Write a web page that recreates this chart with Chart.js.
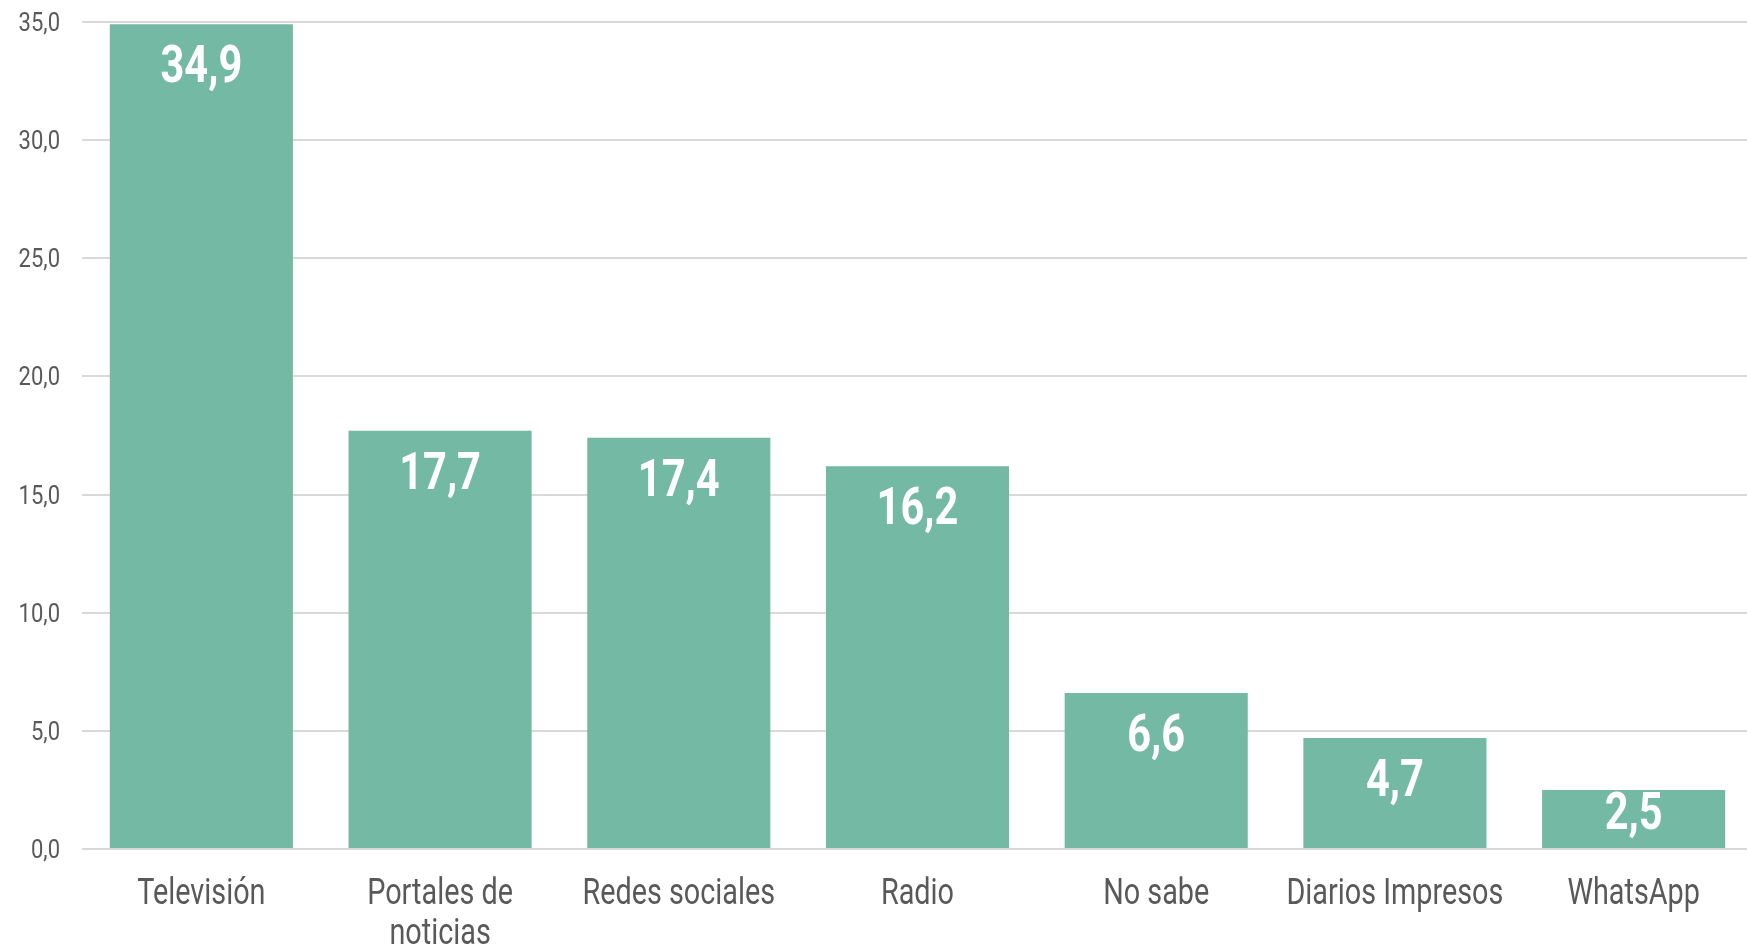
<!DOCTYPE html>
<html>
<head>
<meta charset="utf-8">
<script src="https://cdn.jsdelivr.net/npm/chart.js@4.4.1/dist/chart.umd.min.js"></script>
<style>
  html, body { margin: 0; padding: 0; background: #fff; overflow: hidden; }
  #wrap { width: 1747px; height: 950px; overflow: hidden; }
</style>
</head>
<body>
<div id="wrap"><canvas id="chart" width="1753" height="950"></canvas></div>
<script>
var categories = ['Televisión', ['Portales de', 'noticias'], 'Redes sociales', 'Radio', 'No sabe', 'Diarios Impresos', 'WhatsApp'];
var values = [34.9, 17.7, 17.4, 16.2, 6.6, 4.7, 2.5];
var yTicks = [0, 5, 10, 15, 20, 25, 30, 35];

var fontFamily = "Roboto, 'Liberation Sans', sans-serif";
var textColor = '#595959';

function fmt(v) {
    return v.toFixed(1).replace('.', ',');
}

// draw text squeezed horizontally, to look like the condensed face of the original
function narrowText(ctx, text, x, y, squeeze) {
    ctx.save();
    ctx.translate(x, y);
    ctx.scale(squeeze, 1);
    ctx.fillText(text, 0, 0);
    ctx.restore();
}

// white value labels inside the top of each bar
var valueLabels = {
    id: 'valueLabels',
    afterDatasetsDraw: function(chart) {
        var ctx = chart.ctx;
        var meta = chart.getDatasetMeta(0);
        ctx.save();
        ctx.fillStyle = '#ffffff';
        ctx.font = 'bold 52px ' + fontFamily;
        ctx.textAlign = 'center';
        ctx.textBaseline = 'alphabetic';
        meta.data.forEach(function(bar, i) {
            var y = Math.min(bar.y + 58, bar.base - 19);
            narrowText(ctx, fmt(values[i]), bar.x, y, 0.8);
        });
        ctx.restore();
    }
};

// axis labels, placed from the chart's own scales
var axisLabels = {
    id: 'axisLabels',
    afterDraw: function(chart) {
        var ctx = chart.ctx;
        var xScale = chart.scales.x;
        var yScale = chart.scales.y;
        var area = chart.chartArea;
        ctx.save();
        ctx.fillStyle = textColor;
        ctx.textBaseline = 'alphabetic';

        ctx.font = '36px ' + fontFamily;
        ctx.textAlign = 'center';
        categories.forEach(function(label, i) {
            var x = xScale.getPixelForTick(i);
            var lines = Array.isArray(label) ? label : [label];
            lines.forEach(function(line, j) {
                narrowText(ctx, line, x, area.bottom + 55 + j * 40, 0.8);
            });
        });

        ctx.font = '25px ' + fontFamily;
        ctx.textAlign = 'right';
        yTicks.forEach(function(v) {
            narrowText(ctx, fmt(v), area.left - 22, yScale.getPixelForValue(v) + 9, 0.88);
        });
        ctx.restore();
    }
};

new Chart(document.getElementById('chart').getContext('2d'), {
    type: 'bar',
    data: {
        labels: categories,
        datasets: [{
            data: values,
            backgroundColor: '#74b9a3',
            categoryPercentage: 1,
            barPercentage: 0.767
        }]
    },
    options: {
        responsive: false,
        animation: false,
        layout: { padding: { top: 22, right: 0, left: 0, bottom: 0 } },
        plugins: {
            legend: { display: false },
            tooltip: { enabled: false }
        },
        scales: {
            x: {
                grid: { display: false },
                border: { display: false },
                ticks: { display: false },
                afterFit: function(scale) { scale.height = 101; }
            },
            y: {
                min: 0,
                max: 35,
                afterBuildTicks: function(scale) {
                    scale.ticks = yTicks.map(function(v) { return { value: v }; });
                },
                grid: { color: '#d9d9d9', lineWidth: 2, drawTicks: false },
                border: { display: false },
                ticks: { display: false },
                afterFit: function(scale) {
                    scale.width = 82;
                    scale.paddingTop = 0;
                    scale.paddingBottom = 0;
                }
            }
        }
    },
    plugins: [valueLabels, axisLabels]
});
</script>
</body>
</html>
